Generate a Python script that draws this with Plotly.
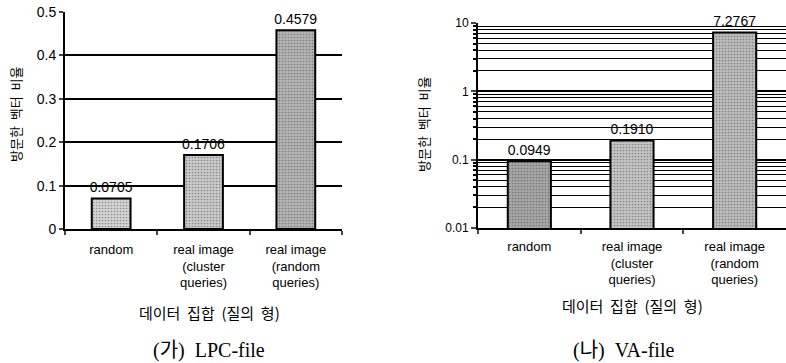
import plotly.graph_objects as go

categories = ["random", "real image<br>(cluster<br>queries)", "real image<br>(random<br>queries)"]
lpc_values = [0.0705, 0.1706, 0.4579]
va_values = [0.0949, 0.1910, 7.2767]
lpc_ticks = [0, 0.1, 0.2, 0.3, 0.4, 0.5]
lpc_tick_text = ["0", "0.1", "0.2", "0.3", "0.4", "0.5"]
va_ticks = [0.01, 0.1, 1, 10]
va_tick_text = ["0.01", "0.1", "1", "10"]
y_title = "방문한  벡터  비율"
x_title = "데이터  집합  (질의  형)"
sub_left = "(가)  LPC-file"
sub_right = "(나)  VA-file"

lpc_colors = ["#d4d4d4", "#cacaca", "#b4b4b4"]
va_colors = ["#a6a6a6", "#c4c4c4", "#bcbcbc"]

sans = "Liberation Sans, Arial, sans-serif"
kr = "Noto Sans CJK KR, sans-serif"
serif = "Liberation Serif, Noto Sans CJK KR, serif"

W, H = 786, 363

fig = go.Figure()
fig.add_trace(go.Bar(
    x=categories, y=lpc_values, xaxis="x", yaxis="y", width=0.42,
    marker=dict(color=lpc_colors, line=dict(color="black", width=2),
                pattern=dict(shape=".", fgcolor="#7a7a7a", size=3, solidity=0.25)),
    text=[f"{v:.4f}" for v in lpc_values], textposition="outside", constraintext="none",
    textfont=dict(family=sans, size=14, color="black"), cliponaxis=False,
))
fig.add_trace(go.Bar(
    x=categories, y=va_values, xaxis="x2", yaxis="y2", width=0.42,
    marker=dict(color=va_colors, line=dict(color="black", width=2),
                pattern=dict(shape=".", fgcolor="#6e6e6e", size=3, solidity=0.25)),
    text=[f"{v:.4f}" for v in va_values], textposition="outside", constraintext="none",
    textfont=dict(family=sans, size=14, color="black"), cliponaxis=False,
))

fig.update_layout(
    width=W, height=H, margin=dict(l=0, r=0, t=0, b=0, pad=0, autoexpand=False),
    plot_bgcolor="white", paper_bgcolor="white", showlegend=False,
    font=dict(family=sans, color="black"),
    xaxis=dict(domain=[65 / W, 342 / W], anchor="y", showline=True, linecolor="black", linewidth=2,
               ticks="outside", ticklen=4, tickwidth=2, tickson="boundaries", ticklabelstandoff=7,
               tickfont=dict(family=sans, size=13), showgrid=False, automargin=False),
    yaxis=dict(domain=[1 - 229 / H, 1 - 12 / H], anchor="x", range=[0, 0.5], tickvals=lpc_ticks,
               ticktext=lpc_tick_text, showline=True, linecolor="black", linewidth=2,
               ticks="outside", ticklen=4, tickwidth=2, showgrid=False, zeroline=False,
               tickfont=dict(family=sans, size=14), automargin=False,
               minor=dict(tickmode="array", tickvals=[0.1, 0.2, 0.3, 0.4], showgrid=True,
                          gridcolor="black", gridwidth=1.5, ticks="")),
    xaxis2=dict(domain=[478 / W, 1.0], anchor="y2", showline=True, linecolor="black", linewidth=2,
                ticks="outside", ticklen=4, tickwidth=2, tickson="boundaries", ticklabelstandoff=5,
                tickfont=dict(family=sans, size=13), showgrid=False, automargin=False),
    yaxis2=dict(domain=[1 - 228 / H, 1 - 23 / H], anchor="x2", type="log", range=[-2, 1],
                tickvals=va_ticks, ticktext=va_tick_text, showline=True, linecolor="black",
                linewidth=2, ticks="outside", ticklen=5, tickwidth=2, showgrid=True,
                gridcolor="black", gridwidth=1.5, zeroline=False, automargin=False,
                tickfont=dict(family=sans, size=12),
                minor=dict(dtick="D1", showgrid=True, gridcolor="black", gridwidth=1,
                           ticks="outside", ticklen=3, tickcolor="black")),
)

ann = [
    (y_title, 15, 115, -90, kr, 13),
    (y_title, 423, 124, -90, kr, 13),
    (x_title, 209, 312, 0, kr, 15),
    (x_title, 632, 305, 0, kr, 15),
    (sub_left, 209, 350, 0, serif, 20),
    (sub_right, 623, 350, 0, serif, 20),
]
for text, px, py, ang, fam, sz in ann:
    fig.add_annotation(text=text, x=px / W, y=1 - py / H, xref="paper", yref="paper",
                       xanchor="center", yanchor="middle",
                       showarrow=False, textangle=ang, font=dict(family=fam, size=sz))

fig.write_html("out.html", config={"displayModeBar": False},
               post_script="document.body.style.margin='0';document.body.style.overflow='hidden';")
